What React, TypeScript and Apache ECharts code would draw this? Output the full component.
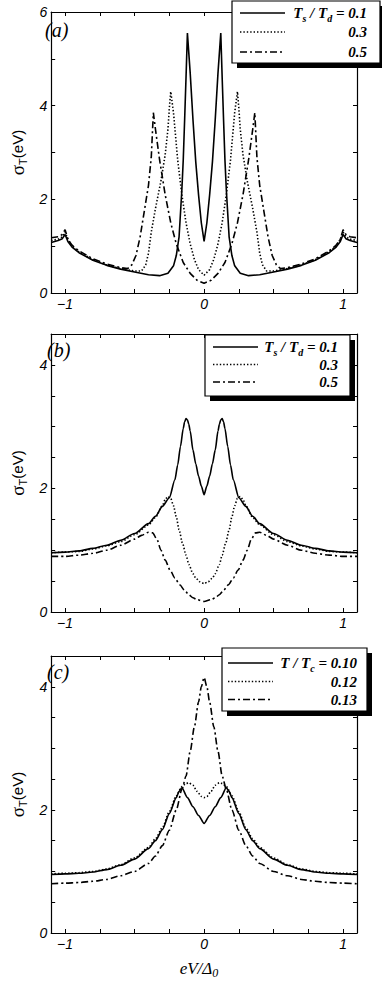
import React, { useEffect, useRef } from "react";
import * as echarts from "echarts";

// ---------- data ----------
// Panel (a): Ts/Td = 0.1, 0.3, 0.5
const A_SOLID_X = [-1.1,-1.05,-1.02,-1,-0.98,-0.95,-0.9,-0.8,-0.7,-0.6,-0.5,-0.4,-0.32,-0.26,-0.22,-0.2,-0.18,-0.16,-0.15,-0.14,-0.13,-0.12,-0.1,-0.08,-0.06,-0.04,-0.02,0,0.02,0.04,0.06,0.08,0.1,0.12,0.13,0.14,0.15,0.16,0.18,0.2,0.22,0.26,0.32,0.4,0.5,0.6,0.7,0.8,0.9,0.95,0.98,1,1.02,1.05,1.1];
const A_SOLID_Y = [1.08,1.12,1.16,1.25,1.1,0.98,0.86,0.7,0.59,0.51,0.45,0.39,0.37,0.42,0.58,0.8,1.2,2.2,2.84,3.7,4.6,5.55,4.7,3.7,2.8,2.1,1.5,1.1,1.5,2.1,2.8,3.7,4.7,5.55,4.6,3.7,2.84,2.2,1.2,0.8,0.58,0.42,0.37,0.39,0.45,0.51,0.59,0.7,0.86,0.98,1.1,1.25,1.16,1.12,1.08];
const A_DOT_X = [-1.1,-1.05,-1.02,-1,-0.98,-0.95,-0.9,-0.8,-0.7,-0.6,-0.5,-0.45,-0.42,-0.4,-0.38,-0.35,-0.31,-0.28,-0.26,-0.25,-0.24,-0.22,-0.19,-0.16,-0.13,-0.1,-0.07,-0.04,0,0.04,0.07,0.1,0.13,0.16,0.19,0.22,0.24,0.25,0.26,0.28,0.31,0.35,0.38,0.4,0.42,0.45,0.5,0.6,0.7,0.8,0.9,0.95,0.98,1,1.02,1.05,1.1];
const A_DOT_Y = [1.12,1.15,1.2,1.3,1.15,1.0,0.88,0.71,0.6,0.52,0.47,0.47,0.6,0.85,1.3,1.8,2.4,2.95,3.5,3.95,4.3,3.85,2.84,2.1,1.5,1.05,0.72,0.5,0.38,0.5,0.72,1.05,1.5,2.1,2.84,3.85,4.3,3.95,3.5,2.95,2.4,1.8,1.3,0.85,0.6,0.47,0.47,0.52,0.6,0.71,0.88,1.0,1.15,1.3,1.2,1.15,1.12];
const A_DASH_X = [-1.1,-1.05,-1.02,-1,-0.98,-0.95,-0.9,-0.8,-0.7,-0.6,-0.55,-0.52,-0.49,-0.46,-0.43,-0.4,-0.38,-0.365,-0.35,-0.32,-0.28,-0.24,-0.2,-0.15,-0.1,-0.05,0,0.05,0.1,0.15,0.2,0.24,0.28,0.32,0.35,0.365,0.38,0.4,0.43,0.46,0.49,0.52,0.55,0.6,0.7,0.8,0.9,0.95,0.98,1,1.02,1.05,1.1];
const A_DASH_Y = [1.18,1.2,1.25,1.35,1.15,1.02,0.9,0.73,0.62,0.54,0.52,0.6,0.8,1.2,1.75,2.3,2.9,3.85,3.5,2.84,2.1,1.5,1.05,0.65,0.42,0.27,0.21,0.27,0.42,0.65,1.05,1.5,2.1,2.84,3.5,3.85,2.9,2.3,1.75,1.2,0.8,0.6,0.52,0.54,0.62,0.73,0.9,1.02,1.15,1.35,1.25,1.2,1.18];

// Panel (b): Ts/Td = 0.1, 0.3, 0.5
const B_SOLID_X = [-1.1,-1,-0.9,-0.8,-0.7,-0.6,-0.5,-0.4,-0.35,-0.3,-0.25,-0.21,-0.19,-0.17,-0.15,-0.14,-0.13,-0.12,-0.11,-0.1,-0.08,-0.06,-0.04,-0.02,0,0.02,0.04,0.06,0.08,0.1,0.11,0.12,0.13,0.14,0.15,0.17,0.19,0.21,0.25,0.3,0.35,0.4,0.5,0.6,0.7,0.8,0.9,1,1.1];
const B_SOLID_Y = [0.96,0.97,0.99,1.03,1.08,1.16,1.27,1.43,1.55,1.71,1.85,2.14,2.38,2.68,2.97,3.08,3.13,3.11,3.04,2.93,2.62,2.4,2.2,2.04,1.9,2.04,2.2,2.4,2.62,2.93,3.04,3.11,3.13,3.08,2.97,2.68,2.38,2.14,1.85,1.71,1.55,1.43,1.27,1.16,1.08,1.03,0.99,0.97,0.96];
const B_DOT_X = [-1.1,-1,-0.9,-0.8,-0.7,-0.6,-0.5,-0.4,-0.35,-0.3,-0.28,-0.26,-0.24,-0.22,-0.2,-0.18,-0.155,-0.13,-0.11,-0.08,-0.06,-0.03,0,0.03,0.06,0.08,0.11,0.13,0.155,0.18,0.2,0.22,0.24,0.26,0.28,0.3,0.35,0.4,0.5,0.6,0.7,0.8,0.9,1,1.1];
const B_DOT_Y = [0.96,0.97,0.98,1.02,1.07,1.14,1.25,1.41,1.53,1.72,1.82,1.87,1.84,1.72,1.54,1.33,1.11,0.92,0.77,0.62,0.55,0.49,0.46,0.49,0.55,0.62,0.77,0.92,1.11,1.33,1.54,1.72,1.84,1.87,1.82,1.72,1.53,1.41,1.25,1.14,1.07,1.02,0.98,0.97,0.96];
const B_DASH_X = [-1.1,-1,-0.9,-0.8,-0.7,-0.6,-0.5,-0.45,-0.4,-0.37,-0.34,-0.31,-0.28,-0.245,-0.21,-0.175,-0.14,-0.11,-0.08,-0.05,0,0.05,0.08,0.11,0.14,0.175,0.21,0.245,0.28,0.31,0.34,0.37,0.4,0.45,0.5,0.6,0.7,0.8,0.9,1,1.1];
const B_DASH_Y = [0.9,0.9,0.92,0.95,1.0,1.08,1.18,1.24,1.29,1.28,1.18,1.0,0.84,0.68,0.55,0.44,0.35,0.28,0.23,0.2,0.17,0.2,0.23,0.28,0.35,0.44,0.55,0.68,0.84,1.0,1.18,1.28,1.29,1.24,1.18,1.08,1.0,0.95,0.92,0.9,0.9];

// Panel (c): T/Tc = 0.10, 0.12, 0.13
const C_SOLID_X = [-1.1,-1,-0.9,-0.8,-0.7,-0.6,-0.5,-0.4,-0.35,-0.3,-0.25,-0.2,-0.18,-0.16,-0.12,-0.08,-0.04,0,0.04,0.08,0.12,0.16,0.18,0.2,0.25,0.3,0.35,0.4,0.5,0.6,0.7,0.8,0.9,1,1.1];
const C_SOLID_Y = [0.95,0.96,0.97,0.99,1.03,1.1,1.2,1.37,1.5,1.68,1.94,2.2,2.3,2.36,2.2,2.05,1.91,1.78,1.91,2.05,2.2,2.36,2.3,2.2,1.94,1.68,1.5,1.37,1.2,1.1,1.03,0.99,0.97,0.96,0.95];
const C_DOT_X = [-1.1,-1,-0.9,-0.8,-0.7,-0.6,-0.5,-0.4,-0.35,-0.3,-0.25,-0.2,-0.16,-0.13,-0.11,-0.08,-0.05,-0.02,0,0.02,0.05,0.08,0.11,0.13,0.16,0.2,0.25,0.3,0.35,0.4,0.5,0.6,0.7,0.8,0.9,1,1.1];
const C_DOT_Y = [0.96,0.97,0.98,1.0,1.04,1.11,1.22,1.39,1.53,1.71,1.97,2.23,2.38,2.43,2.44,2.4,2.3,2.22,2.2,2.22,2.3,2.4,2.44,2.43,2.38,2.23,1.97,1.71,1.53,1.39,1.22,1.11,1.04,1.0,0.98,0.97,0.96];
const C_DASH_X = [-1.1,-1,-0.9,-0.8,-0.7,-0.6,-0.5,-0.4,-0.35,-0.3,-0.25,-0.2,-0.16,-0.13,-0.1,-0.07,-0.04,-0.02,0,0.02,0.04,0.07,0.1,0.13,0.16,0.2,0.25,0.3,0.35,0.4,0.5,0.6,0.7,0.8,0.9,1,1.1];
const C_DASH_Y = [0.8,0.81,0.82,0.84,0.87,0.93,1.0,1.13,1.25,1.42,1.67,2.0,2.33,2.55,2.95,3.35,3.75,4.0,4.15,4.0,3.75,3.35,2.95,2.55,2.33,2.0,1.67,1.42,1.25,1.13,1.0,0.93,0.87,0.84,0.82,0.81,0.8];

// ticks and labels
const X_TICKS = [-1, -0.75, -0.5, -0.25, 0, 0.25, 0.5, 0.75, 1];
const X_LABELS = [-1, 0, 1];
const A_Y_TICKS = [0, 1, 2, 3, 4, 5, 6];
const A_Y_LABELS = [0, 2, 4, 6];
const BC_Y_TICKS = [0, 0.5, 1, 1.5, 2, 2.5, 3, 3.5, 4, 4.5];
const BC_Y_LABELS = [0, 2, 4];
const A_LEGEND_VALUES = ["0.3", "0.5"];
const B_LEGEND_VALUES = ["0.3", "0.5"];
const C_LEGEND_VALUES = ["0.12", "0.13"];

// ---------- styling ----------
const SANS = "'Liberation Sans', Arial, sans-serif";
const SERIF = "'Liberation Serif', 'Times New Roman', serif";
const SOLID_DASH: any = "solid";
const DOT_DASH = [1.4, 2.0];
const DASHDOT_DASH = [7, 3, 2, 3];

const GRIDS = [
  { left: 40, top: 12, width: 317, height: 281 },
  { left: 40, top: 334, width: 317, height: 278 },
  { left: 40, top: 656, width: 317, height: 277 },
];

const fmt = (v: number) => (v < 0 ? "\u2212" + Math.abs(v) : String(v));
const pair = (xs: number[], ys: number[]) => xs.map((x, i) => [x, ys[i]]);

function axes(i: number, ymax: number, yTicks: number[], yLabels: number[]) {
  const line = { show: true, onZero: false, lineStyle: { color: "#000", width: 1.2 } };
  const xBase = {
    type: "value",
    gridIndex: i,
    min: -1.1,
    max: 1.1,
    axisLine: line,
    splitLine: { show: false },
    axisTick: { show: true, inside: true, length: 4, customValues: X_TICKS, lineStyle: { color: "#000", width: 1 } },
  };
  const yBase = {
    type: "value",
    gridIndex: i,
    min: 0,
    max: ymax,
    axisLine: line,
    splitLine: { show: false },
    axisTick: { show: true, inside: true, length: 4, customValues: yTicks, lineStyle: { color: "#000", width: 1 } },
  };
  const labelStyle = {
    fontFamily: SANS,
    fontStyle: "italic",
    fontSize: 14,
    color: "#000",
    formatter: fmt,
  };
  return {
    x: [
      { ...xBase, position: "bottom", axisLabel: { ...labelStyle, show: true, margin: 4, customValues: X_LABELS } },
      { ...xBase, position: "top", axisLabel: { show: false } },
    ],
    y: [
      {
        ...yBase,
        position: "left",
        axisLabel: { ...labelStyle, show: true, margin: 4, customValues: yLabels },
        name: "{g|\u03c3}{t|T}{e|(eV)}",
        nameLocation: "middle",
        nameRotate: 90,
        nameGap: 18,
        nameTextStyle: {
          rich: {
            g: { fontFamily: SERIF, fontSize: 19, color: "#000", lineHeight: 22, verticalAlign: "middle" },
            t: { fontFamily: SANS, fontSize: 11, color: "#000", lineHeight: 22, verticalAlign: "bottom" },
            e: { fontFamily: SANS, fontSize: 15, color: "#000", lineHeight: 22, verticalAlign: "middle" },
          },
        },
      },
      { ...yBase, position: "right", axisLabel: { show: false } },
    ],
  };
}

function series(i: number, name: string, data: number[][], dash: any, smooth: boolean) {
  return {
    type: "line",
    name,
    xAxisIndex: 2 * i,
    yAxisIndex: 2 * i,
    data,
    showSymbol: false,
    symbol: "none",
    smooth: smooth ? 0.25 : false,
    smoothMonotone: smooth ? "x" : undefined,
    lineStyle: { color: "#000", width: 1.6, type: dash },
    z: 3,
  };
}

const tokenStyle = (size: number) => ({
  fontFamily: SERIF,
  fontStyle: "italic",
  fontWeight: "bold",
  fontSize: size,
  fill: "#000",
});

function legend(
  bx: number, by: number, w: number, h: number,
  rows: number[], lx1: number, lx2: number, tx: number,
  firstText: string, values: string[]
) {
  const els: any[] = [];
  els.push({ type: "rect", z: 100, shape: { x: bx + 5, y: by + 5, width: w, height: h }, style: { fill: "#000" } });
  els.push({ type: "rect", z: 101, shape: { x: bx, y: by, width: w, height: h }, style: { fill: "#fff", stroke: "#000", lineWidth: 1.2 } });
  const dashes = [null, DOT_DASH, DASHDOT_DASH];
  rows.forEach((ry, k) => {
    els.push({
      type: "line",
      z: 102,
      shape: { x1: lx1, y1: ry, x2: lx2, y2: ry },
      style: { stroke: "#000", lineWidth: 1.6, lineDash: dashes[k] || undefined },
    });
  });
  els.push({
    type: "text",
    z: 102,
    x: tx,
    y: rows[0],
    style: {
      text: firstText,
      align: "right",
      verticalAlign: "middle",
      rich: {
        b: { ...tokenStyle(15), lineHeight: 20, verticalAlign: "middle" },
        s: { ...tokenStyle(10), lineHeight: 20, verticalAlign: "bottom" },
      },
    },
  });
  values.forEach((v, k) => {
    els.push({
      type: "text",
      z: 102,
      x: tx,
      y: rows[k + 1],
      style: { text: v, align: "right", verticalAlign: "middle", ...tokenStyle(15) },
    });
  });
  return els;
}

function panelLabel(text: string, x: number, y: number) {
  return {
    type: "text",
    z: 90,
    x,
    y,
    style: { text, fontFamily: SERIF, fontStyle: "italic", fontSize: 20, fill: "#000", align: "left", verticalAlign: "middle" },
  };
}

export default function App() {
  const ref = useRef<HTMLDivElement>(null);
  useEffect(() => {
    if (!ref.current) return;
    const chart = echarts.init(ref.current, null, { renderer: "svg" });
    const a = axes(0, 6, A_Y_TICKS, A_Y_LABELS);
    const b = axes(1, 4.5, BC_Y_TICKS, BC_Y_LABELS);
    const c = axes(2, 4.5, BC_Y_TICKS, BC_Y_LABELS);
    const option: any = {
      animation: false,
      backgroundColor: "#fff",
      grid: GRIDS,
      xAxis: [...a.x, ...b.x, ...c.x],
      yAxis: [...a.y, ...b.y, ...c.y],
      series: [
        series(0, "a 0.1", pair(A_SOLID_X, A_SOLID_Y), SOLID_DASH, false),
        series(0, "a 0.3", pair(A_DOT_X, A_DOT_Y), DOT_DASH, false),
        series(0, "a 0.5", pair(A_DASH_X, A_DASH_Y), DASHDOT_DASH, false),
        series(1, "b 0.1", pair(B_SOLID_X, B_SOLID_Y), SOLID_DASH, true),
        series(1, "b 0.3", pair(B_DOT_X, B_DOT_Y), DOT_DASH, true),
        series(1, "b 0.5", pair(B_DASH_X, B_DASH_Y), DASHDOT_DASH, true),
        series(2, "c 0.10", pair(C_SOLID_X, C_SOLID_Y), SOLID_DASH, true),
        series(2, "c 0.12", pair(C_DOT_X, C_DOT_Y), DOT_DASH, true),
        series(2, "c 0.13", pair(C_DASH_X, C_DASH_Y), DASHDOT_DASH, true),
      ],
      graphic: [
        panelLabel("(a)", 45, 30),
        panelLabel("(b)", 47, 350),
        panelLabel("(c)", 47, 672),
        ...legend(232, 1, 148, 62, [13, 32, 52], 240, 285, 367, "{b|T}{s|s}{b| / T}{s|d}{b| = 0.1}", A_LEGEND_VALUES),
        ...legend(205, 335, 145, 61, [347, 364.5, 382], 213, 258, 338, "{b|T}{s|s}{b| / T}{s|d}{b| = 0.1}", B_LEGEND_VALUES),
        ...legend(222, 648, 145, 63, [663, 681.5, 699.5], 228, 273, 357, "{b|T / T}{s|c}{b| = 0.10}", C_LEGEND_VALUES),
        {
          type: "text",
          z: 90,
          x: 199,
          y: 968,
          style: {
            text: "{i|eV/\u0394}{s|0}",
            align: "center",
            verticalAlign: "middle",
            rich: {
              i: { fontFamily: SERIF, fontStyle: "italic", fontSize: 17, fill: "#000", lineHeight: 22, verticalAlign: "middle" },
              s: { fontFamily: SERIF, fontStyle: "italic", fontSize: 12, fill: "#000", lineHeight: 22, verticalAlign: "bottom" },
            },
          },
        },
      ],
    };
    chart.setOption(option);
    return () => chart.dispose();
  }, []);
  return (
    <div
      ref={ref}
      style={{ position: "fixed", left: 0, top: 0, width: 382, height: 981, background: "#fff" }}
    />
  );
}
